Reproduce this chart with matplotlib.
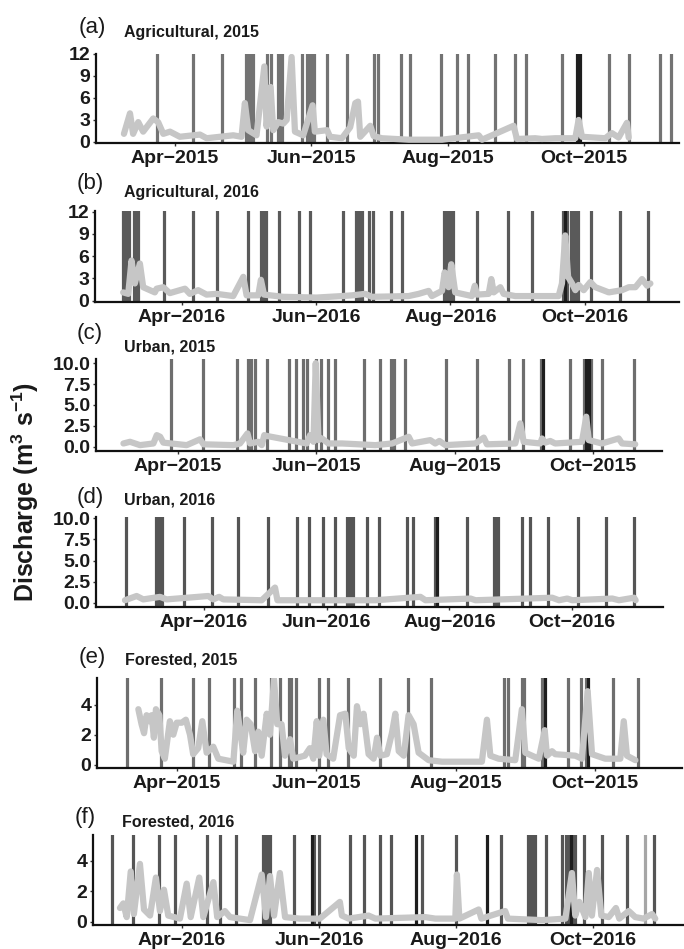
import numpy as np
import pandas as pd
import matplotlib
matplotlib.use("Agg")
import matplotlib.pyplot as plt
import matplotlib.dates as mdates
from matplotlib.ticker import FuncFormatter
from collections import Counter

plt.rcParams['font.family'] = ['Liberation Sans', 'DejaVu Sans']
plt.rcParams['mathtext.fontset'] = 'custom'
plt.rcParams['mathtext.rm'] = 'Liberation Sans:bold'
plt.rcParams['mathtext.default'] = 'rm'

# all dates are day of year
# a sample day listed twice = two samples that day (drawn darker)

# (a) Agricultural, 2015
a_samples = [83, 99, 112, 123, 124, 125, 126, 132, 134, 137, 138, 139, 148, 150, 151, 152, 153,
             159, 168, 180, 182, 192, 196, 210, 217, 222, 234, 243, 248, 264, 271, 271, 272, 272,
             285, 294, 308, 313]
a_q_doy = [68.2, 70.9, 72.3, 74.6, 76.8, 81.3, 83.5, 85.8, 88.8, 93.2, 102.2, 105.2, 117.1, 120.8,
           122.3, 123.8, 127.5, 131, 132, 133.8, 135, 137.2, 139.5, 141, 143.2, 144.7, 148.4, 152.6,
           153.6, 159.1, 160.4, 165.7, 169.4, 171.7, 172.9, 173.9, 178.4, 179.9, 183.6, 195.6, 210.5,
           226.9, 228.4, 242.5, 244, 252.2, 255.2, 261.2, 270.1, 271.6, 273.1, 283.5, 286.5, 289.5,
           293.2, 294]
a_q = [1.1, 3.9, 1.1, 2.7, 1.4, 3.2, 2.7, 1.1, 1.4, 0.7, 1.0, 0.5, 0.9, 0.7, 5.3, 1.6, 0.9, 10.3,
       2.1, 7.5, 1.6, 2.7, 2.5, 3.0, 11.6, 1.4, 0.9, 5.0, 1.4, 1.6, 0.7, 0.5, 2.0, 5.3, 5.5, 0.7,
       2.2, 0.8, 0.5, 0.3, 0.3, 0.9, 0.3, 2.2, 0.4, 0.5, 0.4, 0.5, 0.5, 3.0, 0.7, 0.5, 1.2, 0.6,
       2.6, 0.6]

# (b) Agricultural, 2016
b_samples = [65, 66, 67, 68, 70, 71, 72, 84, 97, 108, 122, 128, 129, 130, 136, 145, 150, 165,
             171, 172, 173, 174, 177, 179, 187, 192, 211, 212, 213, 214, 215, 226, 240, 251, 265,
             266, 266, 267, 269, 270, 271, 272, 278, 291, 304]
b_q_doy = [65.3, 67.6, 69.1, 70.6, 72.9, 74.4, 79.7, 80.5, 83.5, 86.5, 93.4, 95.6, 99.4, 103.2,
           107.8, 115.3, 119.9, 121.4, 126.7, 127.9, 129.3, 138, 153.2, 164.7, 169.3, 175.3, 178.4,
           195, 199.6, 204.1, 205.6, 210.2, 211.4, 213.2, 214.4, 216.2, 223.8, 225.1, 226.1, 231.4,
           232.6, 233.7, 236.7, 238.2, 243.5, 249.6, 263.2, 264.7, 266.2, 267.5, 269.3, 270.8,
           272.3, 274.6, 277.6, 279.9, 286, 292, 295.1, 298.1, 301.1, 303.4, 304.9]
b_q = [1.1, 0.9, 5.4, 2.3, 5.0, 1.8, 1.1, 1.6, 1.8, 1.0, 1.6, 0.9, 1.4, 0.8, 0.9, 0.6, 3.2, 0.7,
       0.7, 2.8, 0.8, 0.5, 0.4, 0.6, 0.7, 0.9, 0.5, 0.6, 0.9, 1.3, 0.6, 1.3, 3.8, 1.8, 4.9, 1.1,
       0.6, 2.0, 0.8, 0.9, 2.9, 1.1, 1.8, 0.9, 0.6, 0.6, 0.6, 2.3, 8.8, 3.2, 2.3, 1.4, 2.1, 1.4,
       2.5, 1.8, 1.1, 1.4, 1.8, 1.8, 2.9, 2.0, 2.3]

# (c) Urban, 2015
c_samples = [88, 102, 117, 122, 123, 125, 130, 140, 143, 146, 148, 152, 154, 157, 160, 173, 180,
             185, 186, 191, 209, 223, 237, 243, 251, 252, 252, 264, 270, 271, 271, 272, 272, 273,
             278, 292]
c_q_doy = [66.9, 69.8, 74.2, 80.1, 81.6, 83.1, 84.5, 94.8, 100.7, 102.2, 115.4, 118.3, 121.6, 122.7,
           126.4, 127.9, 129, 130.1, 147.7, 149.2, 150.7, 151.7, 152.9, 154.4, 157.3, 163.3, 178,
           185.4, 192.7, 194.2, 202.2, 204.4, 206.2, 208.9, 222.1, 225.8, 227.2, 239.7, 241.9,
           243.4, 250.7, 251.5, 252.9, 255.1, 257.3, 269.1, 271, 272.1, 277.9, 285.3, 286.8, 292.6]
c_q = [0.4, 0.6, 0.2, 0.4, 1.4, 1.2, 0.5, 0.2, 0.9, 0.3, 0.2, 0.4, 1.6, 0.4, 0.6, 0.2, 1.4, 1.3,
       0.4, 1.4, 0.6, 10.0, 0.8, 1.0, 0.4, 0.4, 0.2, 0.4, 1.2, 0.4, 0.8, 0.4, 0.7, 0.2, 0.4, 1.1,
       0.3, 0.4, 2.8, 0.6, 0.4, 1.0, 0.5, 0.7, 0.4, 0.6, 3.6, 0.8, 0.4, 1.0, 0.4, 0.3]

# (d) Urban, 2016
d_samples = [53, 68, 69, 70, 71, 82, 96, 109, 124, 138, 144, 151, 157, 163, 164, 165, 166, 173,
             179, 193, 196, 207, 208, 208, 223, 236, 237, 238, 250, 254, 263, 278, 292, 306]
d_q_doy = [52.7, 58.5, 61.8, 70.1, 73.4, 94.1, 96.6, 99.5, 101.6, 120.7, 127.3, 128.5, 160.7,
           177.2, 199.6, 202.1, 224.5, 227, 265.1, 268.5, 272.6, 275.1, 295, 298.3, 305.8, 306.6]
d_q = [0.3, 0.8, 0.4, 0.7, 0.4, 0.8, 0.4, 0.7, 0.4, 0.3, 1.8, 0.3, 0.3, 0.3, 0.7, 0.3, 0.5, 0.3,
       0.6, 0.3, 0.5, 0.3, 0.5, 0.3, 0.6, 0.3]

# (e) Forested, 2015
e_samples = [69, 84, 98, 105, 116, 119, 125, 132, 136, 140, 141, 143, 153, 157, 166, 180, 192,
             202, 234, 236, 242, 243, 251, 252, 252, 262, 268, 270, 271, 271, 282, 293]
e_q_doy = [74.1, 75.5, 76.6, 77.7, 78.9, 79.9, 80.9, 81.8, 83.3, 84.3, 85.7, 87.9, 89.4, 90.9,
           93.1, 94.9, 96.7, 98.1, 100.3, 102.1, 104, 106.9, 109.1, 115.7, 117.4, 118.9, 120,
           121.5, 123.3, 125.2, 126.6, 128.1, 130.3, 131.7, 133.5, 134.9, 136.8, 138.3, 140.5,
           141.9, 147, 149.2, 150.7, 152.2, 153.3, 155.1, 156.5, 159.4, 162.4, 164.7, 166.2,
           168.4, 169.8, 171.3, 172.7, 174.9, 177.1, 178.6, 180, 182.9, 185.1, 186.6, 188.1,
           190.3, 192.4, 194.6, 196.8, 201.2, 207, 224.5, 226.7, 228.2, 231.8, 239.1, 242, 243.5,
           249.4, 252, 253, 255.2, 256.6, 265.4, 268.3, 270.8, 272.7, 278.5, 285.1, 286.6, 288,
           291.7]
e_q = [3.7, 2.7, 2.1, 3.3, 2.9, 3.3, 1.8, 3.7, 3.3, 0.9, 0.4, 2.9, 2.0, 2.8, 2.8, 3.0, 2.0, 0.7,
       1.1, 2.9, 0.8, 1.2, 0.4, 0.2, 3.6, 2.0, 0.8, 3.0, 2.7, 0.9, 2.2, 0.6, 3.4, 2.0, 5.7, 2.7,
       2.7, 0.6, 1.7, 0.4, 0.6, 1.1, 0.4, 2.9, 0.6, 3.0, 0.7, 0.4, 3.3, 3.4, 1.1, 0.6, 3.9, 2.7,
       3.4, 0.7, 0.4, 1.8, 0.6, 0.7, 2.1, 3.4, 0.9, 0.6, 3.3, 2.7, 0.8, 0.3, 0.2, 0.2, 3.0, 0.6,
       0.4, 0.3, 3.7, 0.8, 0.4, 2.3, 0.6, 0.9, 0.7, 0.6, 0.4, 4.9, 0.7, 0.4, 0.4, 2.9, 0.6, 0.3]

# (f) Forested, 2016
f_samples = [61, 70, 82, 89, 103, 109, 116, 128, 129, 130, 131, 142, 150, 150, 151, 153, 167, 173,
             180, 185, 196, 196, 199, 214, 228, 228, 234, 246, 247, 248, 249, 254, 261, 263, 264,
             265, 265, 266, 267, 271, 279, 290, 302]
f_samples_light = [298]
f_q_doy = [64.4, 65.9, 67.4, 69.2, 70.6, 73.3, 75.1, 77.8, 80.4, 82.2, 84, 85.9, 91.1, 94.1, 95.9,
           99.7, 101.5, 106, 107.7, 111.1, 113.4, 122.3, 127.5, 129.4, 131.2, 133, 135.6, 137.9,
           144.5, 153.4, 162.3, 163.2, 166.2, 175.1, 178.1, 200.3, 204.8, 213.7, 214.4, 215.5,
           224.1, 225.3, 235.9, 237.1, 252.3, 262.7, 265.6, 267.1, 268.9, 271.6, 273.1, 274.5,
           276.8, 278.7, 282, 285.2, 286.7, 290.9, 293.8, 297.5, 301.3, 302.7]
f_q = [0.9, 1.2, 0.3, 3.3, 0.5, 3.8, 0.8, 0.4, 2.9, 0.7, 2.1, 0.4, 0.2, 2.5, 0.3, 2.9, 0.3, 2.6,
       0.3, 0.7, 0.3, 0.1, 3.1, 0.3, 3.0, 0.4, 3.2, 0.3, 0.2, 0.2, 1.3, 0.4, 0.2, 0.4, 0.2, 0.3,
       0.2, 0.2, 3.1, 0.2, 0.8, 0.2, 0.7, 0.2, 0.1, 0.2, 3.2, 0.4, 1.3, 0.3, 3.2, 0.4, 3.4, 0.4,
       0.3, 0.9, 0.2, 0.7, 0.3, 0.2, 0.5, 0.2]

W, H = 684, 949


def to_dates(year, doy):
    return pd.Timestamp(f"{year}-01-01") + pd.to_timedelta(np.asarray(doy, float) - 1, unit="D")


def month_label(v, pos):
    d = mdates.num2date(v)
    return d.strftime("%b") + "\u2212" + d.strftime("%Y")


def draw_panel(fig, box, year, samples, q_doy, q, xlim, ylim, yticks, ylabels,
               letter, title, letter_xy, title_xy, line_col="#6e6e6e", light=None):
    l, t, r, b = box
    ax = fig.add_axes([l / W, 1 - b / H, (r - l) / W, (b - t) / H])
    counts = Counter(samples)
    for day, n in counts.items():
        col = line_col if n == 1 else "#1e1e1e"
        ax.axvline(to_dates(year, [day])[0], color=col, lw=2.3, zorder=2 if n > 1 else 1)
    if light is not None:
        for d in to_dates(year, light):
            ax.axvline(d, color="#a6a6a6", lw=2.3, zorder=1)
    ax.plot(to_dates(year, q_doy), q, color="#c6c6c6", lw=4.5, solid_joinstyle="round",
            solid_capstyle="round", zorder=3)

    x0, x1 = to_dates(year, xlim)
    ax.set_xlim(x0, x1)
    ax.set_ylim(*ylim)
    ax.set_yticks(yticks)
    ax.set_yticklabels(ylabels)
    ax.xaxis.set_major_locator(mdates.MonthLocator(bymonth=[4, 6, 8, 10], bymonthday=1))
    ax.xaxis.set_major_formatter(FuncFormatter(month_label))

    for s in ["top", "right"]:
        ax.spines[s].set_visible(False)
    for s in ["left", "bottom"]:
        ax.spines[s].set_linewidth(1.6)
        ax.spines[s].set_color("#111111")
    ax.tick_params(axis="both", length=2.5, width=1, color="#333333", labelsize=14)
    ax.tick_params(axis="x", pad=2.5)
    ax.tick_params(axis="y", pad=1.5)
    for lab in ax.get_xticklabels() + ax.get_yticklabels():
        lab.set_fontweight("bold")
        lab.set_color("#1a1a1a")

    fig.text(letter_xy[0] / W, 1 - letter_xy[1] / H, letter, fontsize=16,
             ha="center", va="center", color="#1a1a1a")
    fig.text(title_xy[0] / W, 1 - title_xy[1] / H, title, fontsize=11.5, fontweight="bold",
             ha="left", va="center", color="#1a1a1a")
    return ax


fig = plt.figure(figsize=(W / 100, H / 100), dpi=100)

t12 = [0, 3, 6, 9, 12]
t10 = [0, 2.5, 5, 7.5, 10]
t4 = [0, 2, 4]

draw_panel(fig, (96, 54, 679, 143), 2015, a_samples, a_q_doy, a_q, (55.7, 316.5), (-0.15, 12),
           t12, [str(v) for v in t12], "(a)", "Agricultural, 2015", (92, 28), (124, 33),
           line_col="#737373")
draw_panel(fig, (95, 211, 679, 302), 2016, b_samples, b_q_doy, b_q, (52.5, 317.9), (-0.2, 12.1),
           t12, [str(v) for v in t12], "(b)", "Agricultural, 2016", (90, 184), (124, 193),
           line_col="#5a5a5a")
draw_panel(fig, (96, 359, 662, 451), 2015, c_samples, c_q_doy, c_q, (54.8, 304.4), (-0.5, 10.5),
           t10, ["%.1f" % v for v in t10], "(c)", "Urban, 2015", (90, 334), (124, 347),
           line_col="#6e6e6e")
draw_panel(fig, (96, 517, 663, 607), 2016, d_samples, d_q_doy, d_q, (38.3, 320.2), (-0.5, 10.15),
           t10, ["%.1f" % v for v in t10], "(d)", "Urban, 2016", (90, 497), (124, 500),
           line_col="#555555")
draw_panel(fig, (97, 678, 682, 768), 2015, e_samples, e_q_doy, e_q, (56, 312.1), (-0.22, 5.78),
           t4, [str(v) for v in t4], "(e)", "Forested, 2015", (92, 657), (125, 660),
           line_col="#6e6e6e")
draw_panel(fig, (93, 835, 684, 925), 2016, f_samples, f_q_doy, f_q, (52.4, 315.5), (-0.22, 5.7),
           t4, [str(v) for v in t4], "(f)", "Forested, 2016", (85, 817), (122, 822),
           line_col="#555555", light=f_samples_light)

fig.text(25 / W, 1 - 492 / H, "Discharge (m$^{3}$ s$^{-1}$)", rotation=90, fontsize=18,
         fontweight="bold", ha="center", va="center", color="#1a1a1a")

fig.savefig("out.png", dpi=100)
